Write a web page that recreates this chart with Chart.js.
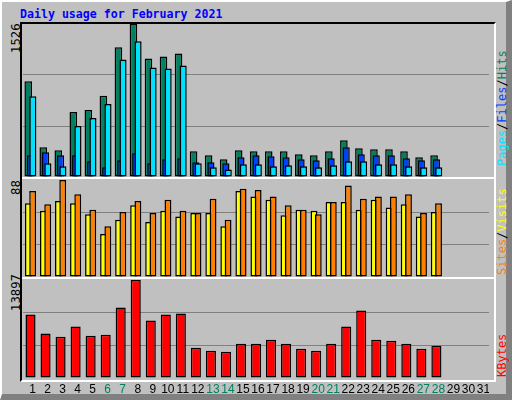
<!DOCTYPE html>
<html><head><meta charset="utf-8">
<script src="https://cdn.jsdelivr.net/npm/chart.js@4"></script>
<style>
html,body{margin:0;padding:0}
body{width:512px;height:400px;background:#c0c0c0;position:relative;overflow:hidden;font-family:"DejaVu Sans Mono",monospace}
#outer{position:absolute;left:0;top:0;width:504px;height:392px;border-top:2px solid #fff;border-left:2px solid #fff;border-right:6px solid #808080;border-bottom:6px solid #808080;box-sizing:content-box}
#frame{position:absolute;left:20px;top:22px;width:472px;height:356px;border-top:2px solid #000;border-left:2px solid #000;border-right:2px solid #fff;border-bottom:2px solid #fff}
.sep{position:absolute;left:22px;width:472px;height:2px;background:#fff}
#title{position:absolute;left:20px;top:7px;color:#0000ff;font-weight:bold;font-size:11.6px}
.rot{position:absolute;transform-origin:0 0;transform:rotate(-90deg);white-space:nowrap;font-size:12px}
.rl{position:absolute;transform-origin:0 0;transform:rotate(-90deg);white-space:nowrap;font-size:11.6px;font-family:"DejaVu Sans",sans-serif}
canvas{position:absolute}
</style></head><body>
<div id="outer"></div>
<div id="frame"></div>
<div id="title">Daily usage for February 2021</div>
<div class="rl" style="left:9px;top:53px">1526</div>
<div class="rl" style="left:9px;top:195px">88</div>
<div class="rl" style="left:9px;top:311px">13897</div>
<div class="rot" style="left:495px;top:166px"><span style="color:#00e0ff">Pages</span>/<span style="color:#0040ff">Files</span>/<span style="color:#008060">Hits</span></div>
<div class="rot" style="left:495px;top:275px"><span style="color:#ff8000">Sites</span>/<span style="color:#ffff00">Visits</span></div>
<div class="rot" style="left:495px;top:377px"><span style="color:#ff0000">KBytes</span></div>
<div class="sep" style="top:177px"></div>
<div class="sep" style="top:277px"></div>
<canvas id="c1" width="466" height="153" style="left:23px;top:24px"></canvas>
<canvas id="c2" width="466" height="97" style="left:23px;top:180px"></canvas>
<canvas id="c3" width="466" height="120" style="left:23px;top:280px"></canvas>
<script>
const days = Array.from({length:31},(_,i)=>String(i+1));
const weekendDays = ['6','7','13','14','20','21','27','28'];
const hits  = [956,297,267,649,669,810,1293,1526,1182,1202,1233,257,217,176,267,257,257,257,227,217,257,367,287,277,277,257,196,217];
const files = [217,247,217,217,156,96,166,237,136,176,186,146,146,136,196,217,207,196,176,166,186,297,227,217,217,186,166,176];
const pages = [805,136,106,508,589,729,1172,1353,1091,1081,1111,136,96,76,126,126,106,116,106,96,116,156,156,126,126,106,96,96];
const sites = [67,60,69,67,57,39,52,65,50,60,55,58,58,46,78,73,70,56,61,60,68,68,61,70,63,66,55,59];
const visits= [78,66,88,75,61,46,59,69,58,70,60,58,71,52,80,79,73,65,61,57,68,83,71,73,73,75,58,67];
const kbytes= [9000,6300,5860,7290,6000,6150,10000,13897,8150,9000,9150,4290,3860,3720,4860,4860,5430,4860,4150,3860,4860,7290,9580,5430,5290,4860,4150,4580];
const maxHits=1526, maxVisits=88, maxKB=13897;

function yScale(max){
  return {min:0,max:max,display:true,
    afterBuildTicks:s=>{s.ticks=[0,max/3,2*max/3,max].map(v=>({value:v}));},
    ticks:{display:false},border:{display:false},
    grid:{drawTicks:false,lineWidth:1,color:c=>(c.index===1||c.index===2)?'#808080':'rgba(0,0,0,0)'}};
}
// draw datasets left-to-right so the right-hand bars overlap the left-hand ones
const leftFirst={id:'leftFirst',beforeDatasetsDraw(chart){
  const metas=chart.getSortedVisibleDatasetMetas();
  const ctx=chart.ctx,a=chart.chartArea;
  ctx.save();ctx.beginPath();ctx.rect(a.left,a.top-2,a.right-a.left,a.bottom-a.top+4);ctx.clip();
  metas.forEach(m=>m.controller.draw());
  ctx.restore();return false;}};
function base(max,extra){
  return {responsive:false,animation:false,events:[],
    layout:{padding:{left:0,right:0,top:0,bottom:extra||0}},
    plugins:{legend:{display:false},tooltip:{enabled:false}},
    scales:{x:{display:false,offset:true},y:yScale(max)}};
}
const bd={borderColor:'#000',borderWidth:1.5,borderSkipped:false};
new Chart(document.getElementById('c1'),{type:'bar',
  data:{labels:days,datasets:[
    Object.assign({label:'Hits',data:hits,backgroundColor:'#008060',categoryPercentage:0.46,barPercentage:3.3},bd),
    Object.assign({label:'Files',data:files,backgroundColor:'#0040ff',categoryPercentage:0.46,barPercentage:3.1},bd),
    Object.assign({label:'Pages',data:pages,backgroundColor:'#00e0ff',categoryPercentage:0.46,barPercentage:3.1},bd)]},
  options:base(maxHits),plugins:[leftFirst]});
new Chart(document.getElementById('c2'),{type:'bar',
  data:{labels:days,datasets:[
    Object.assign({label:'Visits',data:sites,backgroundColor:'#ffff00',categoryPercentage:0.57,barPercentage:1.6},bd),
    Object.assign({label:'Sites',data:visits,backgroundColor:'#ff8000',categoryPercentage:0.57,barPercentage:1.6},bd)]},
  options:base(maxVisits),plugins:[leftFirst]});
const dayLabels={id:'dayLabels',afterDraw(chart){
  const ctx=chart.ctx,x=chart.scales.x;ctx.save();
  ctx.font='12px "Liberation Sans", sans-serif';ctx.textAlign='center';ctx.textBaseline='middle';
  days.forEach((d,i)=>{ctx.fillStyle=weekendDays.includes(d)?'#008060':'#000';ctx.fillText(d,x.getPixelForValue(i)+2,110);});
  ctx.restore();}};
new Chart(document.getElementById('c3'),{type:'bar',
  data:{labels:days,datasets:[Object.assign({label:'KBytes',data:kbytes,backgroundColor:'#ff0000',categoryPercentage:1,barPercentage:0.67},bd)]},
  options:base(maxKB,22),plugins:[dayLabels]});
</script></body></html>
